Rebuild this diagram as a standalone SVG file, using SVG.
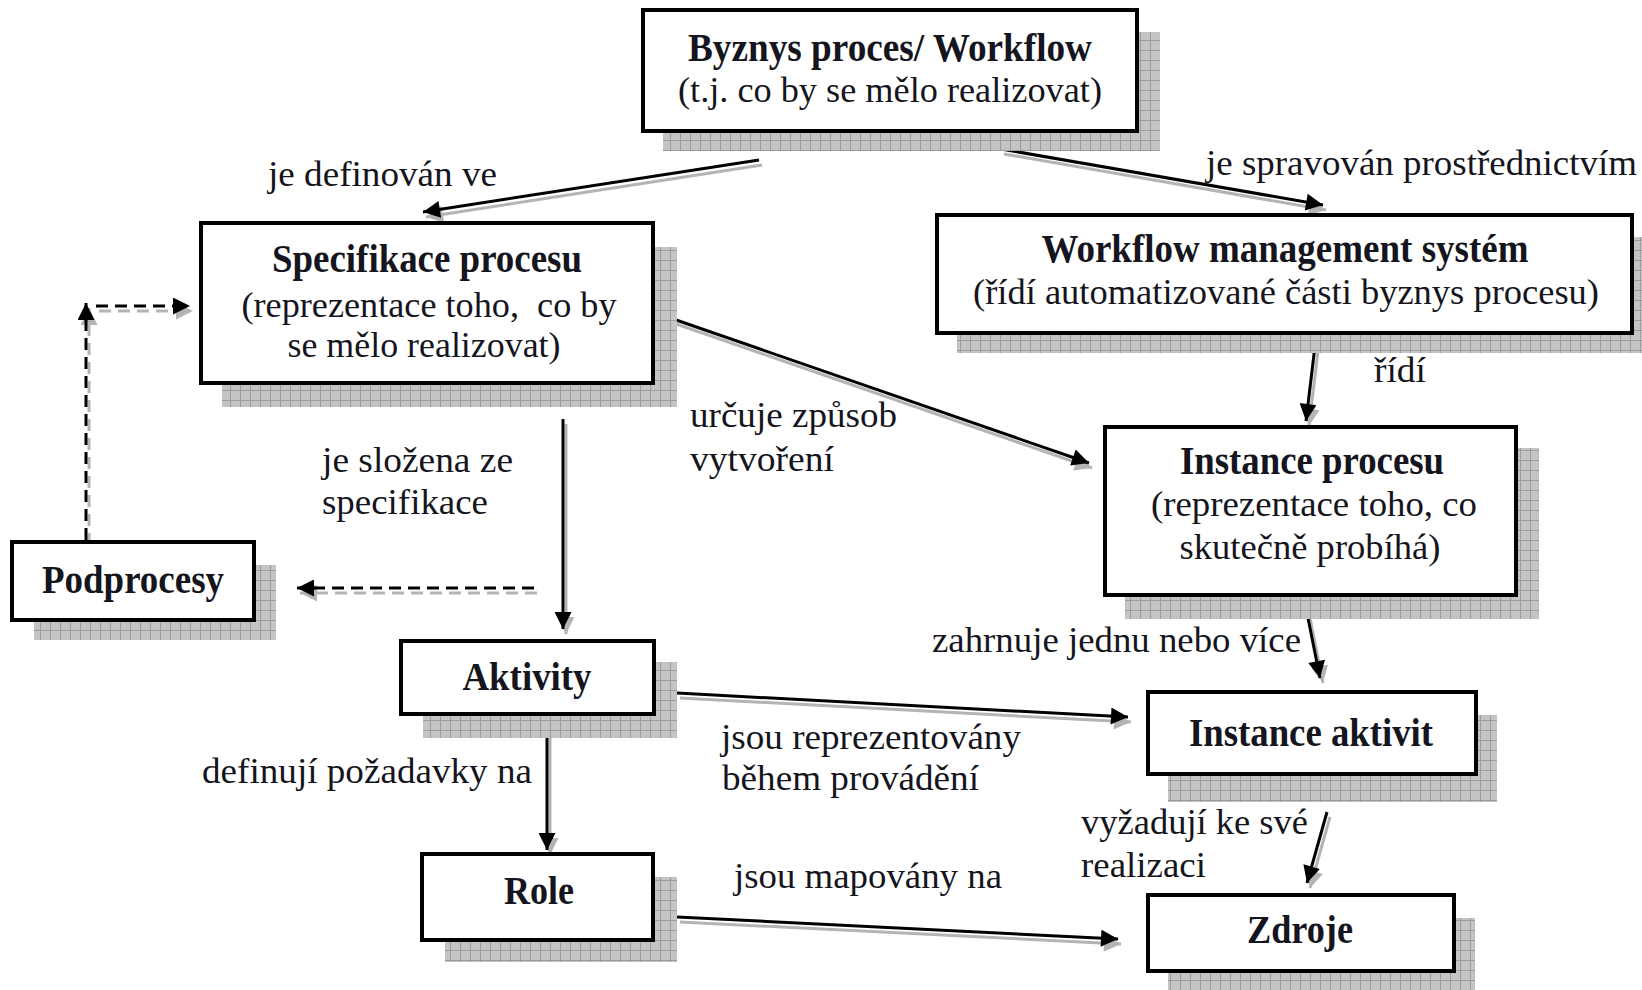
<svg xmlns="http://www.w3.org/2000/svg" width="1642" height="990" viewBox="0 0 1642 990">
<style>
.box{fill:#fff;stroke:#000;stroke-width:4}
.sh{fill:url(#grid)}
.b{font-family:"Liberation Serif","Times New Roman",serif;font-weight:bold;font-size:40px;fill:#151520;text-anchor:middle}
.r{font-family:"Liberation Serif","Times New Roman",serif;font-size:36px;fill:#151520;text-anchor:middle}
.l{font-family:"Liberation Serif","Times New Roman",serif;font-size:36px;fill:#151520}
.ln{stroke:#000;stroke-width:3;fill:none;marker-end:url(#ah)}
.lns{stroke:#b4b4b4;stroke-width:3;fill:none;marker-end:url(#ahs)}
.d{stroke-dasharray:12 7}
</style>
<defs>
<pattern id="grid" width="10" height="10" patternUnits="userSpaceOnUse">
<rect width="10" height="10" fill="#c4c4c4"/>
<path d="M0 0.5H10M0.5 0V10" stroke="#9c9c9c" stroke-width="1"/>
</pattern>
<marker id="ah" viewBox="0 0 10 10" refX="10" refY="5" markerWidth="22" markerHeight="17" markerUnits="userSpaceOnUse" orient="auto"><path d="M0,0 L10,5 L0,10 z" fill="#000"/></marker>
<marker id="ahs" viewBox="0 0 10 10" refX="10" refY="5" markerWidth="22" markerHeight="17" markerUnits="userSpaceOnUse" orient="auto"><path d="M0,0 L10,5 L0,10 z" fill="#b4b4b4"/></marker>
</defs>
<rect width="1642" height="990" fill="#fff"/>

<g id="connectors">
<g transform="translate(3,5)">
<line class="lns" x1="759" y1="160" x2="423" y2="212"/>
<line class="lns" x1="1001" y1="149" x2="1323" y2="205"/>
<line class="lns" x1="1315" y1="346" x2="1306" y2="421"/>
<line class="lns" x1="653" y1="312" x2="1089" y2="463"/>
<line class="lns" x1="563" y1="419" x2="563" y2="629"/>
<line class="lns d" x1="534" y1="588" x2="297" y2="588"/>
<line class="lns d" x1="86" y1="540" x2="86" y2="303"/>
<line class="lns d" x1="96" y1="306" x2="190" y2="306"/>
<line class="lns" x1="1306" y1="608" x2="1320" y2="678"/>
<line class="lns" x1="677" y1="693" x2="1128" y2="717"/>
<line class="lns" x1="547" y1="727" x2="547" y2="850"/>
<line class="lns" x1="1327" y1="812" x2="1307" y2="883"/>
<line class="lns" x1="677" y1="917" x2="1118" y2="939"/>
</g>
<line class="ln" x1="759" y1="160" x2="423" y2="212"/>
<line class="ln" x1="1001" y1="149" x2="1323" y2="205"/>
<line class="ln" x1="1315" y1="346" x2="1306" y2="421"/>
<line class="ln" x1="653" y1="312" x2="1089" y2="463"/>
<line class="ln" x1="563" y1="419" x2="563" y2="629"/>
<line class="ln d" x1="534" y1="588" x2="297" y2="588"/>
<line class="ln d" x1="86" y1="540" x2="86" y2="303"/>
<line class="ln d" x1="96" y1="306" x2="190" y2="306"/>
<line class="ln" x1="1306" y1="608" x2="1320" y2="678"/>
<line class="ln" x1="677" y1="693" x2="1128" y2="717"/>
<line class="ln" x1="547" y1="727" x2="547" y2="850"/>
<line class="ln" x1="1327" y1="812" x2="1307" y2="883"/>
<line class="ln" x1="677" y1="917" x2="1118" y2="939"/>
</g>

<g id="labels">
<text class="l" x="268" y="186" textLength="229" lengthAdjust="spacingAndGlyphs">je definován ve</text>
<text class="l" x="1206" y="175" textLength="431" lengthAdjust="spacingAndGlyphs">je spravován prostřednictvím</text>
<text class="l" x="1374" y="382" textLength="52" lengthAdjust="spacingAndGlyphs">řídí</text>
<text class="l" x="690" y="427" textLength="207" lengthAdjust="spacingAndGlyphs">určuje způsob</text>
<text class="l" x="690" y="471" textLength="144" lengthAdjust="spacingAndGlyphs">vytvoření</text>
<text class="l" x="322" y="472" textLength="191" lengthAdjust="spacingAndGlyphs">je složena ze</text>
<text class="l" x="322" y="514" textLength="166" lengthAdjust="spacingAndGlyphs">specifikace</text>
<text class="l" x="932" y="652" textLength="369" lengthAdjust="spacingAndGlyphs">zahrnuje jednu nebo více</text>
<text class="l" x="721" y="749" textLength="300" lengthAdjust="spacingAndGlyphs">jsou reprezentovány</text>
<text class="l" x="722" y="790" textLength="257" lengthAdjust="spacingAndGlyphs">během provádění</text>
<text class="l" x="202" y="783" textLength="330" lengthAdjust="spacingAndGlyphs">definují požadavky na</text>
<text class="l" x="1081" y="834" textLength="227" lengthAdjust="spacingAndGlyphs">vyžadují ke své</text>
<text class="l" x="1081" y="877" textLength="125" lengthAdjust="spacingAndGlyphs">realizaci</text>
<text class="l" x="734" y="888" textLength="268" lengthAdjust="spacingAndGlyphs">jsou mapovány na</text>
</g>

<g id="byznys">
<rect class="sh" x="663" y="32" width="497" height="119"/>
<rect class="box" x="643" y="10" width="494" height="121"/>
<text class="b" x="890" y="61" textLength="404" lengthAdjust="spacingAndGlyphs">Byznys proces/ Workflow</text>
<text class="r" x="890" y="102" textLength="424" lengthAdjust="spacingAndGlyphs">(t.j. co by se mělo realizovat)</text>
</g>
<g id="specifikace">
<rect class="sh" x="222" y="247" width="455" height="160"/>
<rect class="box" x="201" y="223" width="452" height="160"/>
<text class="b" x="427" y="272" textLength="310" lengthAdjust="spacingAndGlyphs">Specifikace procesu</text>
<text class="r" x="429" y="317" textLength="375" lengthAdjust="spacingAndGlyphs" xml:space="preserve">(reprezentace toho,  co by</text>
<text class="r" x="424" y="357" textLength="273" lengthAdjust="spacingAndGlyphs">se mělo realizovat)</text>
</g>
<g id="wms">
<rect class="sh" x="957" y="237" width="685" height="116"/>
<rect class="box" x="937" y="215" width="695" height="118"/>
<text class="b" x="1285" y="262" textLength="487" lengthAdjust="spacingAndGlyphs">Workflow management systém</text>
<text class="r" x="1286" y="304" textLength="626" lengthAdjust="spacingAndGlyphs">(řídí automatizované části byznys procesu)</text>
</g>
<g id="instance-procesu">
<rect class="sh" x="1125" y="448" width="414" height="171"/>
<rect class="box" x="1105" y="427" width="411" height="168"/>
<text class="b" x="1312" y="474" textLength="264" lengthAdjust="spacingAndGlyphs">Instance procesu</text>
<text class="r" x="1314" y="516" textLength="326" lengthAdjust="spacingAndGlyphs">(reprezentace toho, co</text>
<text class="r" x="1310" y="559" textLength="261" lengthAdjust="spacingAndGlyphs">skutečně probíhá)</text>
</g>
<g id="podprocesy">
<rect class="sh" x="34" y="565" width="242" height="75"/>
<rect class="box" x="12" y="542" width="242" height="78"/>
<text class="b" x="133" y="593" textLength="182" lengthAdjust="spacingAndGlyphs">Podprocesy</text>
</g>
<g id="aktivity">
<rect class="sh" x="423" y="662" width="254" height="76"/>
<rect class="box" x="401" y="641" width="253" height="73"/>
<text class="b" x="527" y="690" textLength="129" lengthAdjust="spacingAndGlyphs">Aktivity</text>
</g>
<g id="role">
<rect class="sh" x="445" y="877" width="232" height="85"/>
<rect class="box" x="422" y="854" width="231" height="86"/>
<text class="b" x="539" y="904" textLength="70" lengthAdjust="spacingAndGlyphs">Role</text>
</g>
<g id="instance-aktivit">
<rect class="sh" x="1168" y="715" width="329" height="87"/>
<rect class="box" x="1148" y="692" width="328" height="82"/>
<text class="b" x="1311" y="746" textLength="244" lengthAdjust="spacingAndGlyphs">Instance aktivit</text>
</g>
<g id="zdroje">
<rect class="sh" x="1168" y="918" width="307" height="72"/>
<rect class="box" x="1148" y="895" width="306" height="76"/>
<text class="b" x="1300" y="943" textLength="106" lengthAdjust="spacingAndGlyphs">Zdroje</text>
</g>
</svg>
